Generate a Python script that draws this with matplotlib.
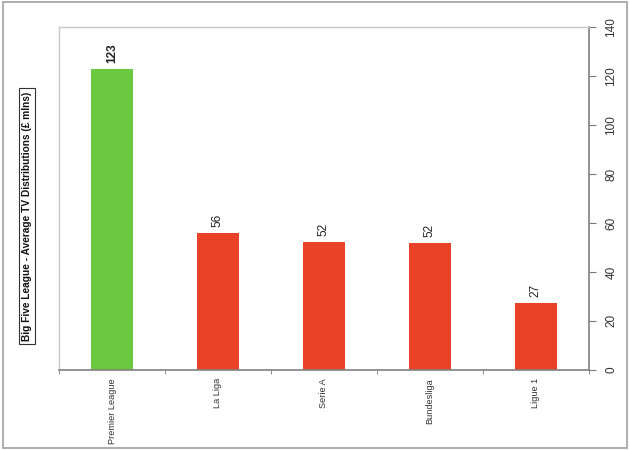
import matplotlib
matplotlib.use("Agg")
import matplotlib.pyplot as plt
from matplotlib import font_manager
from matplotlib.patches import Rectangle

leagues = ["Premier League", "La Liga", "Serie A", "Bundesliga", "Ligue 1"]
values = [123, 56, 52.3, 51.8, 27.3]
value_labels = ["123", "56", "52", "52", "27"]
bar_colors = ["#6CC83E", "#E84326", "#E84326", "#E84326", "#E84326"]
yticks = [0, 20, 40, 60, 80, 100, 120, 140]
title = "Big Five League - Average TV Distributions (£ mlns)"

names = {f.name for f in font_manager.fontManager.ttflist}
narrow = "Liberation Sans Narrow" if "Liberation Sans Narrow" in names else "Liberation Sans"
plt.rcParams['font.family'] = [narrow, 'DejaVu Sans']

fig = plt.figure(figsize=(6.3, 4.5), dpi=100)
ax = fig.add_axes([0.0937, 0.178, 0.841, 0.762])

x = list(range(len(leagues)))
ax.bar(x, values, width=0.4, color=bar_colors, edgecolor="none", zorder=2)
ax.set_xlim(-0.5, len(leagues) - 0.5)
ax.set_ylim(0, 140)

for xi, v, lab in zip(x, values, value_labels):
    ax.text(xi, v + 2.3, lab, rotation=90, ha="center", va="bottom",
            fontsize=8.5, fontweight="bold" if lab == "123" else "normal",
            color="#222222")

ax.yaxis.tick_right()
ax.set_yticks(yticks)
ax.set_yticklabels([str(t) for t in yticks], rotation=90, va="center",
                   fontsize=8.5, color="#333333")
ax.tick_params(axis="y", direction="out", length=5, color="#777777", pad=7)

ax.set_xticks(x)
ax.set_xticklabels(leagues, rotation=90, fontsize=6.6, color="#333333")
ax.tick_params(axis="x", length=0, pad=6)
ax.set_xticks([i - 0.5 for i in range(len(leagues) + 1)], minor=True)
ax.tick_params(axis="x", which="minor", direction="out", length=3, color="#777777")

for s in ["left", "top"]:
    ax.spines[s].set_color("#C8C8C8")
    ax.spines[s].set_linewidth(1.0)
for s in ["right", "bottom"]:
    ax.spines[s].set_color("#808080")
    ax.spines[s].set_linewidth(1.2)

fig.text(0.043, 0.52, title, rotation=90, ha="center", va="center",
         fontsize=7.3, fontweight="bold", color="#111111",
         bbox=dict(boxstyle="square,pad=0.3", facecolor="white",
                   edgecolor="#333333", linewidth=0.8))

fig.patches.append(Rectangle((0.004, 0.004), 0.992, 0.992, transform=fig.transFigure,
                             fill=False, edgecolor="#A0A0A0", linewidth=1.2))

fig.savefig("out.png", dpi=100)
